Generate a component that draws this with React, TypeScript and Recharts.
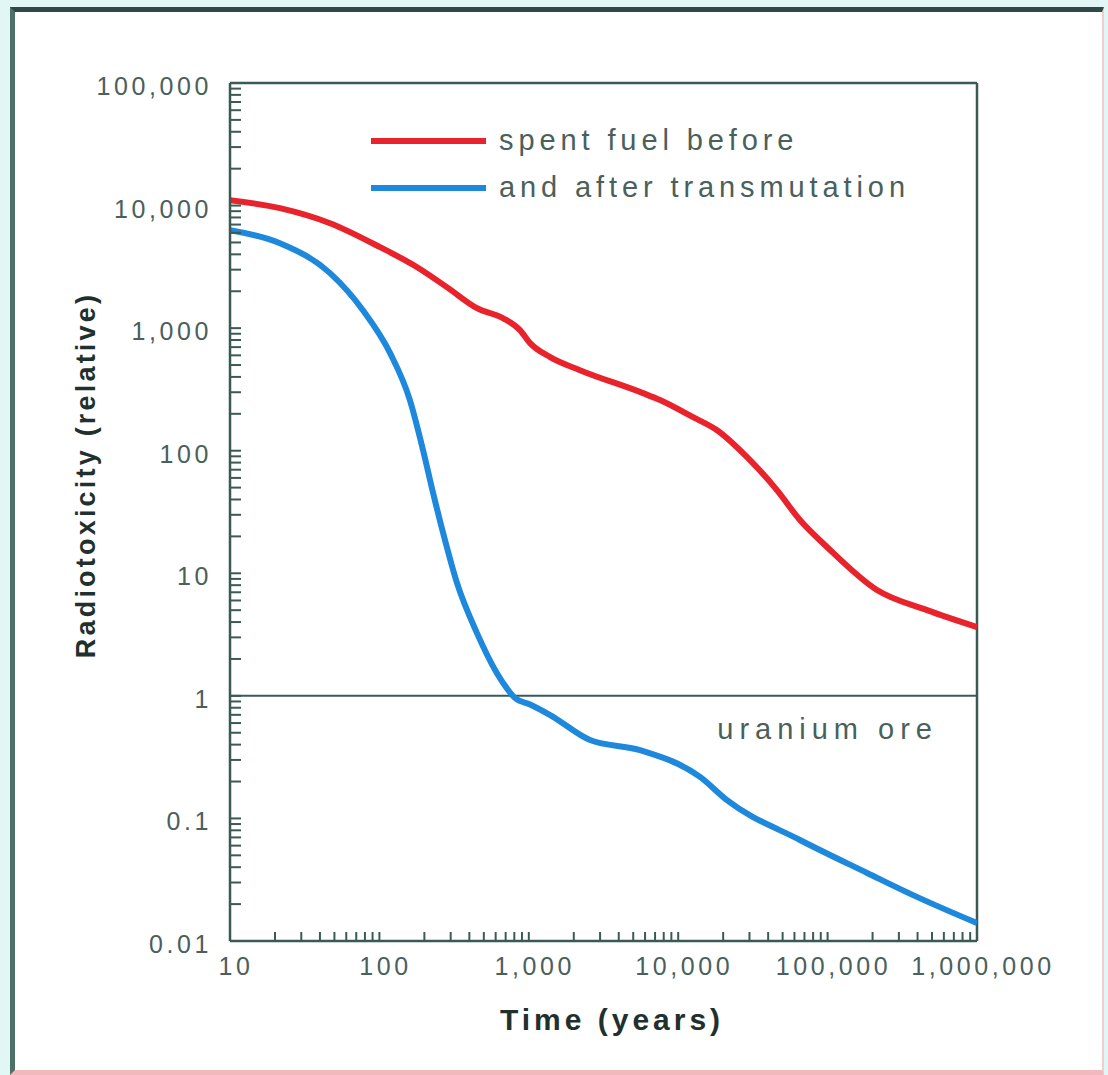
import React from "react";
import { LineChart, Line, XAxis, YAxis, ReferenceLine, Legend } from "recharts";

// values (years -> relative radiotoxicity)
const beforeYears = [10, 21.6, 46.7, 101, 179, 283, 450, 671, 873, 1020, 1390, 2200, 5810, 7550, 12560, 18200, 28900, 45800, 65300, 99000, 214000, 463000, 1000000];
const beforeTox = [11070, 9530, 7180, 4580, 3140, 2160, 1455, 1206, 963, 755, 580, 454, 295, 259, 188, 147, 88.7, 47.7, 27.2, 16.4, 7.3, 5.0, 3.64];

const afterYears = [10, 21.6, 46.7, 77.6, 118, 160, 196, 229, 267, 331, 450, 612, 714, 809, 1020, 1390, 2570, 5540, 14000, 21200, 65300, 184000, 396000, 1000000];
const afterTox = [6300, 4930, 2810, 1400, 625, 259, 101, 45, 21.3, 8.3, 3.25, 1.53, 1.15, 0.96, 0.85, 0.697, 0.436, 0.361, 0.218, 0.141, 0.0667, 0.0359, 0.0229, 0.014];

const xMajor = [10, 100, 1000, 10000, 100000, 1000000];
const xLabels = ["10", "100", "1,000", "10,000", "100,000", "1,000,000"];
const yMajor = [0.01, 0.1, 1, 10, 100, 1000, 10000, 100000];
const yLabels = ["0.01", "0.1", "1", "10", "100", "1,000", "10,000", "100,000"];
const minorSteps = [1, 2, 3, 4, 5, 6, 7, 8, 9];

const seriesNames = ["spent fuel before", "and after transmutation"];

const RED = "#e8232b";
const BLUE = "#1d88dc";
const AXIS = "#3b5a54";
const TICK_TEXT = "#4a605b";
const TITLE_TEXT = "#1f302d";
const FONT = "'Liberation Sans', Arial, sans-serif";

const withMinor = (majors: number[]) => {
  const out: number[] = [];
  majors.forEach((m, i) => {
    if (i === majors.length - 1) out.push(m);
    else minorSteps.forEach((s) => out.push(s * m));
  });
  return out;
};

const beforeData = beforeYears.map((t, i) => ({ t, v: beforeTox[i] }));
const afterData = afterYears.map((t, i) => ({ t, v: afterTox[i] }));

const YTick = (props: any) => {
  const { x, y, payload } = props;
  const i = yMajor.indexOf(payload.value);
  return (
    <g>
      <line x1={x} x2={x + 11} y1={y} y2={y} stroke={AXIS} strokeWidth={2} />
      {i >= 0 && (
        <text x={x - 18} y={y + 3} textAnchor="end" dominantBaseline="central" fontFamily={FONT} fontSize={25} letterSpacing={3.6} fill={TICK_TEXT}>
          {yLabels[i]}
        </text>
      )}
    </g>
  );
};

const XTick = (props: any) => {
  const { x, y, payload } = props;
  const i = xMajor.indexOf(payload.value);
  return (
    <g>
      <line x1={x} x2={x} y1={y} y2={y - 9} stroke={AXIS} strokeWidth={2} />
      {i >= 0 && (
        <text x={x + 6} y={y + 25} textAnchor="middle" dominantBaseline="central" fontFamily={FONT} fontSize={25} letterSpacing={3.6} fill={TICK_TEXT}>
          {xLabels[i]}
        </text>
      )}
    </g>
  );
};

const XTitle = (props: any) => {
  const { viewBox } = props;
  return (
    <text x={viewBox.x + 382} y={viewBox.y + 78} textAnchor="middle" dominantBaseline="central" fontFamily={FONT} fontSize={30} fontWeight="bold" letterSpacing={4} fill={TITLE_TEXT}>
      Time (years)
    </text>
  );
};

const YTitle = (props: any) => {
  const { viewBox } = props;
  const cx = viewBox.x + 6;
  const cy = viewBox.y + viewBox.height / 2 - 37;
  return (
    <text x={cx} y={cy} transform={`rotate(-90 ${cx} ${cy})`} textAnchor="middle" dominantBaseline="central" fontFamily={FONT} fontSize={27} fontWeight="bold" letterSpacing={3.2} fill={TITLE_TEXT}>
      Radiotoxicity (relative)
    </text>
  );
};

const OreLabel = (props: any) => {
  const { viewBox } = props;
  return (
    <text x={viewBox.x + viewBox.width - 39} y={viewBox.y + 33} textAnchor="end" dominantBaseline="central" fontFamily={FONT} fontSize={29} letterSpacing={6} fill={TICK_TEXT}>
      uranium ore
    </text>
  );
};

const LegendBox = () => (
  <div style={{ fontFamily: FONT }}>
    {seriesNames.map((name, i) => (
      <div key={name} style={{ display: "flex", alignItems: "center", height: 47 }}>
        <span style={{ display: "inline-block", width: 115, height: 6, background: i === 0 ? RED : BLUE, marginRight: 13 }} />
        <span style={{ fontSize: 29, letterSpacing: 4.9, color: TICK_TEXT, lineHeight: "47px" }}>{name}</span>
      </div>
    ))}
  </div>
);

export default function App() {
  return (
    <div style={{ position: "absolute", left: 0, top: 0, width: 1108, height: 1075, background: "#e2f6f6", overflow: "hidden" }}>
      <div
        style={{
          position: "absolute",
          left: 10,
          top: 7,
          width: 1094,
          height: 1068,
          boxSizing: "border-box",
          background: "#ffffff",
          borderTop: "5px solid #2f4a45",
          borderLeft: "5px solid #4d7068",
          borderRight: "2px solid #f3cccc",
          borderBottom: "5px solid #f1b9bb",
        }}
      />
      <div style={{ position: "absolute", left: 0, top: 0 }}>
        <LineChart width={1108} height={1075} margin={{ top: 83, right: 131, bottom: 34, left: 80 }}>
          <XAxis
            dataKey="t"
            type="number"
            scale="log"
            domain={[10, 1000000]}
            allowDataOverflow
            ticks={withMinor(xMajor)}
            interval={0}
            tick={<XTick />}
            tickSize={0}
            tickMargin={0}
            tickLine={false}
            height={100}
            axisLine={{ stroke: AXIS, strokeWidth: 2.5 }}
            label={<XTitle />}
          />
          <YAxis
            type="number"
            scale="log"
            domain={[0.01, 100000]}
            allowDataOverflow
            ticks={withMinor(yMajor)}
            interval={0}
            tick={<YTick />}
            tickSize={0}
            tickMargin={0}
            tickLine={false}
            width={150}
            axisLine={{ stroke: AXIS, strokeWidth: 2.5 }}
            label={<YTitle />}
          />
          <ReferenceLine y={100000} stroke={AXIS} strokeWidth={2.5} />
          <ReferenceLine x={1000000} stroke={AXIS} strokeWidth={2.5} />
          <ReferenceLine y={1} stroke={AXIS} strokeWidth={2} label={<OreLabel />} />
          <Legend
            layout="vertical"
            verticalAlign="middle"
            align="center"
            content={<LegendBox />}
            wrapperStyle={{ left: 371, top: 117, width: 600, height: 94 }}
          />
          <Line data={afterData} dataKey="v" name={seriesNames[1]} type="monotone" stroke={BLUE} strokeWidth={6} dot={false} isAnimationActive={false} />
          <Line data={beforeData} dataKey="v" name={seriesNames[0]} type="monotone" stroke={RED} strokeWidth={6} dot={false} isAnimationActive={false} />
        </LineChart>
      </div>
    </div>
  );
}
